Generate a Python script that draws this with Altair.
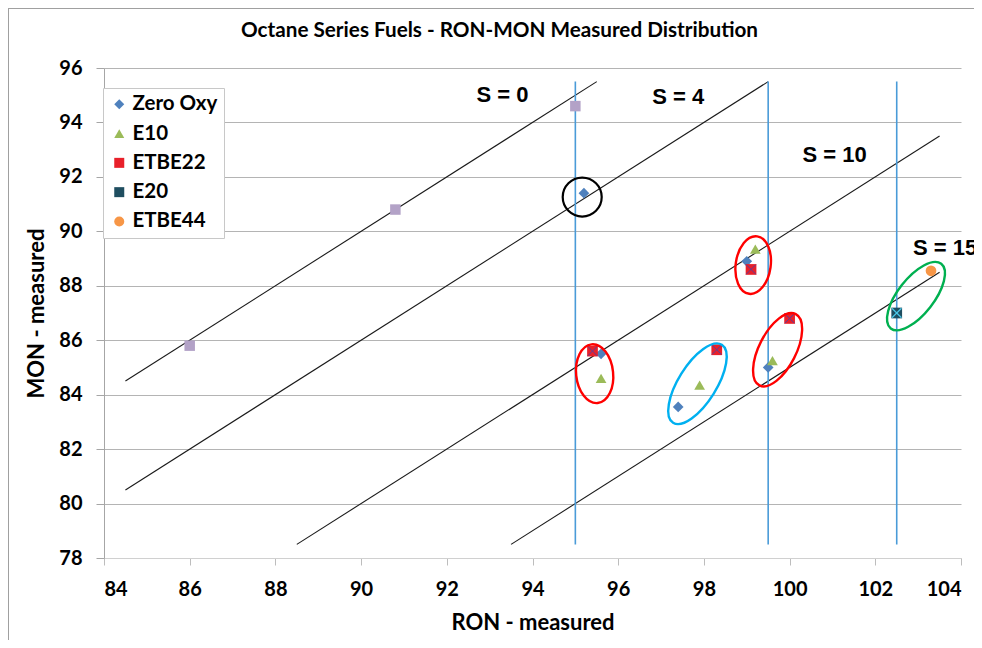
import altair as alt
import pandas as pd

# ---------------- data ----------------
title_text = "Octane Series Fuels - RON-MON Measured Distribution"
series_names = ["Zero Oxy", "E10", "ETBE22", "E20", "ETBE44"]
series_colors = ["#4F81BD", "#9BBB59", "#E8202A", "#1F4E60", "#F79646"]
series_shapes = ["diamond", "triangle-up", "square", "square", "circle"]

zero_oxy_ron = [95.2, 99.0, 95.6, 97.4, 99.5]
zero_oxy_mon = [91.4, 88.9, 85.5, 83.55, 85.0]
e10_ron = [99.2, 95.6, 97.9, 99.6]
e10_mon = [89.35, 84.6, 84.35, 85.25]
etbe22_ron = [99.1, 95.4, 98.3, 100.0]
etbe22_mon = [88.6, 85.6, 85.65, 86.8]
e20_ron = [102.5]
e20_mon = [87.0]
etbe44_ron = [103.3]
etbe44_mon = [88.55]

# unlabelled reference points (S = 0 line)
ref_ron = [86.0, 90.8, 95.0]
ref_mon = [85.8, 90.8, 94.6]

# constant-sensitivity lines S = RON - MON
s_values = [0, 4, 10, 15]
s_ron_start = [84.5, 84.5, 88.5, 93.5]
s_mon_start = [84.5, 80.5, 78.5, 78.5]
s_ron_end = [95.5, 99.5, 103.5, 103.5]
s_mon_end = [95.5, 95.5, 93.5, 88.5]

# S labels
s_label_text = ["S = 0", "S = 4", "S = 10"]
s_label_ron = [93.3, 97.4, 101.05]
s_label_mon = [95.0, 94.93, 92.8]
s15_text = ["S = 15"]
s15_ron = [102.88]
s15_mon = [89.38]

# RON limit lines
ron_limits = [95.0, 99.5, 102.5]
limit_mon_low = 78.5
limit_mon_high = 95.5

x_ticks = list(range(84, 105, 2))
y_ticks = list(range(78, 97, 2))

# ---------------- build tables ----------------
rows = []
for name, rons, mons in [
    ("Zero Oxy", zero_oxy_ron, zero_oxy_mon),
    ("E10", e10_ron, e10_mon),
    ("ETBE22", etbe22_ron, etbe22_mon),
    ("E20", e20_ron, e20_mon),
    ("ETBE44", etbe44_ron, etbe44_mon),
]:
    for r, m in zip(rons, mons):
        rows.append({"fuel": name, "ron": r, "mon": m})
points = pd.DataFrame(rows)
refs = pd.DataFrame({"ron": ref_ron, "mon": ref_mon})
s_lines = pd.DataFrame({"s": s_values, "ron": s_ron_start, "mon": s_mon_start,
                        "ron2": s_ron_end, "mon2": s_mon_end})
limits = pd.DataFrame({"ron": ron_limits, "mon": [limit_mon_low] * 3,
                       "mon2": [limit_mon_high] * 3})
labels = pd.DataFrame({"t": s_label_text, "ron": s_label_ron, "mon": s_label_mon})
label15 = pd.DataFrame({"t": s15_text, "ron": s15_ron, "mon": s15_mon})

xs = alt.Scale(domain=[84, 104], nice=False, zero=False)
ys = alt.Scale(domain=[78, 96], nice=False, zero=False)

FONT = "Lato"

x_axis = alt.Axis(values=x_ticks, grid=False, title="RON - measured", format="d",
                  tickSize=7, labelPadding=14, titlePadding=13,
                  domainColor="#D0D0D0", tickColor="#BDBDBD")
y_axis = alt.Axis(values=y_ticks, grid=True, title="MON - measured", format="d",
                  tickSize=8, labelPadding=14, titlePadding=10,
                  domainColor="#A6A6A6", tickColor="#A6A6A6", gridColor="#B4B4B4")


def X(field="ron"):
    return alt.X(f"{field}:Q", scale=xs, axis=x_axis)


def Y(field="mon"):
    return alt.Y(f"{field}:Q", scale=ys, axis=y_axis)


border = alt.Chart(refs).mark_rect(fillOpacity=0, stroke="#A0A0A0", strokeWidth=1).encode(
    x=alt.value(-95.5), x2=alt.value(900), y=alt.value(-59.5), y2=alt.value(700)
)

title = alt.Chart(pd.DataFrame({"t": [title_text]})).mark_text(
    font=FONT, fontSize=20.7, fontWeight="bold", color="black",
    align="center", baseline="middle"
).encode(text="t:N", x=alt.value(395.5), y=alt.value(-37))

diag = alt.Chart(s_lines).mark_rule(color="#1A1A1A", strokeWidth=1.1).encode(
    x=X(), y=Y(), x2="ron2:Q", y2="mon2:Q"
)

vlines = alt.Chart(limits).mark_rule(color="#4A9BD8", strokeWidth=1.6).encode(
    x=X(), y=Y(), y2="mon2:Q"
)

ref_pts = alt.Chart(refs).mark_point(shape="square", filled=True, size=110,
                                     opacity=1, color="#B3A2C7").encode(x=X(), y=Y())

leg = alt.Legend(title=None, orient="none", legendX=-1, legendY=20,
                 fillColor="white", strokeColor="#C8C8C8", padding=6,
                 labelFont=FONT, labelFontWeight="bold", labelFontSize=20.5,
                 labelColor="black", symbolSize=100, rowPadding=8.3,
                 labelOffset=3, symbolStrokeWidth=0)

pts = alt.Chart(points).mark_point(filled=True, opacity=1, size=115).encode(
    x=X(), y=Y(),
    color=alt.Color("fuel:N", scale=alt.Scale(domain=series_names, range=series_colors), legend=leg),
    shape=alt.Shape("fuel:N", scale=alt.Scale(domain=series_names, range=series_shapes), legend=leg),
)

X_PATH = "M-1,-1L1,1M1,-1L-1,1"
x_etbe22 = alt.Chart(points[points.fuel == "ETBE22"]).mark_point(
    shape=X_PATH, size=90, strokeWidth=1, opacity=1, color="#5B3F99").encode(x=X(), y=Y())
x_e20 = alt.Chart(points[points.fuel == "E20"]).mark_point(
    shape=X_PATH, size=90, strokeWidth=1.2, opacity=1, color="#4BC6E6").encode(x=X(), y=Y())


def ellipse_path(ratio):
    k = 0.5523
    r = ratio
    kr = k * r
    return (f"M0,-1C{kr:.4f},-1 {r:.4f},{-k:.4f} {r:.4f},0"
            f"C{r:.4f},{k:.4f} {kr:.4f},1 0,1"
            f"C{-kr:.4f},1 {-r:.4f},{k:.4f} {-r:.4f},0"
            f"C{-r:.4f},{-k:.4f} {-kr:.4f},-1 0,-1Z")


def ellipse(ron, mon, a, b, angle, color):
    df = pd.DataFrame({"ron": [ron], "mon": [mon]})
    return alt.Chart(df).mark_point(
        shape=ellipse_path(b / a), size=(2 * a) ** 2, angle=angle,
        filled=False, opacity=1, color=color, strokeWidth=2.4
    ).encode(x=X(), y=Y())


ellipses = [
    alt.Chart(pd.DataFrame({"ron": [95.16], "mon": [91.26]})).mark_point(
        shape="circle", size=39 ** 2, filled=False, opacity=1, color="black",
        strokeWidth=2.2).encode(x=X(), y=Y()),
    ellipse(99.15, 88.76, 29, 17.5, 8, "#FF0000"),
    ellipse(95.45, 84.77, 29.5, 18.5, 354, "#FF0000"),
    ellipse(97.85, 84.40, 46, 19, 32, "#00B0F0"),
    ellipse(99.72, 85.65, 40, 18.5, 27, "#FF0000"),
    ellipse(102.95, 87.62, 41, 18, 38, "#00B050"),
]

slabels = alt.Chart(labels).mark_text(
    font="Liberation Sans", fontWeight="bold", fontSize=22, color="black",
    align="center", baseline="middle").encode(x=X(), y=Y(), text="t:N")
slabel15 = alt.Chart(label15).mark_text(
    font="Liberation Sans", fontWeight="bold", fontSize=22, color="black",
    align="left", baseline="middle").encode(x=X(), y=Y(), text="t:N")

chart = alt.layer(
    border, title, diag, vlines, ref_pts, pts, x_etbe22, x_e20, *ellipses, slabels, slabel15
).properties(
    width=857, height=490,
    autosize=alt.AutoSizeParams(type="none"),
    padding={"left": 96, "top": 60, "right": 13, "bottom": 82},
).configure_view(strokeWidth=0).configure_axis(
    labelFont=FONT, labelFontWeight="bold", labelFontSize=20, labelColor="black",
    titleFont=FONT, titleFontWeight="bold", titleFontSize=22, titleColor="black",
)

chart.save("out.html", embed_options={"renderer": "svg", "actions": False})
